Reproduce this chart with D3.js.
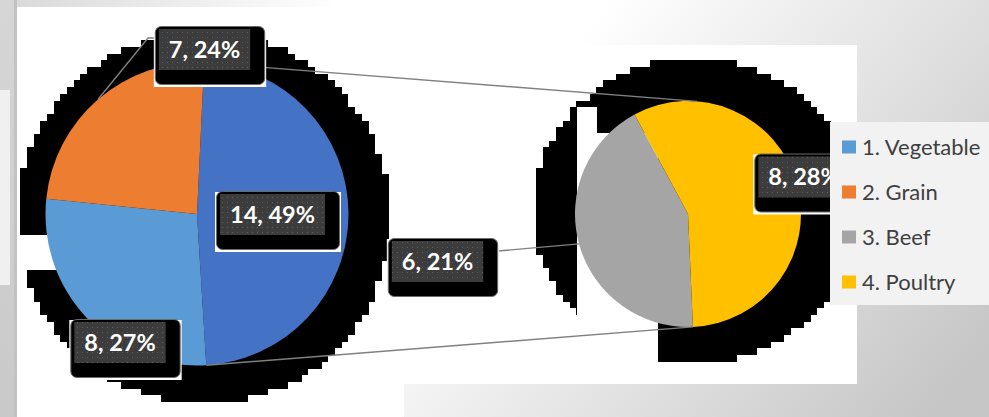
<!DOCTYPE html>
<html><head><meta charset="utf-8">
<script src="https://cdn.jsdelivr.net/npm/d3@7"></script>
<style>html,body{margin:0;padding:0;background:#fff;overflow:hidden}</style>
</head><body><svg id="c" width="989" height="417"></svg>
<script>
// ---------- data ----------
const mainCategories = ["Other", "1. Vegetable", "2. Grain"];
const mainValues = [14, 8, 7];
const mainPercents = ["49%", "27%", "24%"];
const secondCategories = ["3. Beef", "4. Poultry"];
const secondValues = [6, 8];
const secondPercents = ["21%", "28%"];
const legendLabels = ["1. Vegetable", "2. Grain", "3. Beef", "4. Poultry"];

// ---------- styles / layout ----------
const colorMap = {"Other": "#4472C4", "1. Vegetable": "#5B9BD5", "2. Grain": "#ED7D31", "3. Beef": "#A5A5A5", "4. Poultry": "#FFC000"};
const W = 989, H = 417;
const main = {cx: 197, cy: 214, r: 151.5, start: 2.7 * Math.PI / 180};
const second = {cx: 688, cy: 214, r: 113, start: 177.5 * Math.PI / 180, topAngle: 4.5 * Math.PI / 180};
const mainLabelCenters = [[272.5, 214.5], [120, 342.5], [204.5, 49.5]];
const secondLabelCenters = [[437.5, 261.5], [804, 177]];

const svg = d3.select("#c");
const defs = svg.append("defs");

const bg = defs.append("linearGradient").attr("id", "bg").attr("gradientUnits", "userSpaceOnUse")
  .attr("x1", 610).attr("y1", 0).attr("x2", 1000).attr("y2", 330);
bg.append("stop").attr("offset", 0).attr("stop-color", "#ffffff");
bg.append("stop").attr("offset", 1).attr("stop-color", "#c6c6c6");
const topg = defs.append("linearGradient").attr("id", "topg").attr("gradientUnits", "userSpaceOnUse")
  .attr("x1", 17).attr("y1", 0).attr("x2", 340).attr("y2", 0);
topg.append("stop").attr("offset", 0).attr("stop-color", "#dadada");
topg.append("stop").attr("offset", 1).attr("stop-color", "#ffffff");
const leftg = defs.append("linearGradient").attr("id", "leftg").attr("x1", 0).attr("y1", 0).attr("x2", 0).attr("y2", 1);
leftg.append("stop").attr("offset", 0).attr("stop-color", "#d6d6d6");
leftg.append("stop").attr("offset", 1).attr("stop-color", "#c9c9c9");
const pat = defs.append("pattern").attr("id", "dots").attr("patternUnits", "userSpaceOnUse")
  .attr("width", 5).attr("height", 5);
pat.append("rect").attr("width", 5).attr("height", 5).attr("fill", "#3c3c3c");
pat.append("rect").attr("x", 2).attr("y", 2).attr("width", 1).attr("height", 1).attr("fill", "#5e5e5e");

// background
svg.append("rect").attr("width", W).attr("height", H).attr("fill", "url(#bg)");
svg.append("rect").attr("x", 17).attr("y", 0).attr("width", 400).attr("height", 7).attr("fill", "url(#topg)");
svg.append("rect").attr("x", 17).attr("y", 7).attr("width", 387).attr("height", H - 7).attr("fill", "#fff");
svg.append("rect").attr("x", 404).attr("y", 45).attr("width", 453).attr("height", 339).attr("fill", "#fff");

// blocky shadows
function blockyPath(cx, cy, rx, ry, cell, xmin, xmax) {
  let d = "";
  const y0 = Math.floor((cy - ry) / cell) * cell;
  for (let y = y0; y < cy + ry; y += cell) {
    const yc = y + cell / 2;
    const t = (yc - cy) / ry;
    if (Math.abs(t) >= 1) continue;
    const dx = rx * Math.sqrt(1 - t * t);
    let xa = Math.round((cx - dx) / cell) * cell, xb = Math.round((cx + dx) / cell) * cell;
    xa = Math.max(xa, xmin); xb = Math.min(xb, xmax);
    d += `M${xa},${y.toFixed(2)}H${xb}V${(y + cell).toFixed(2)}H${xa}Z`;
  }
  return d;
}
svg.append("path").attr("d", blockyPath(204, 218, 187, 186, 6.7, 17, 392))
  .attr("fill", "#000").attr("shape-rendering", "crispEdges");
svg.append("path").attr("d", blockyPath(695, 210.5, 162, 152.5, 6.7, 520, 857))
  .attr("fill", "#000").attr("shape-rendering", "crispEdges");
// white gaps in the shadows
svg.append("rect").attr("x", 17).attr("y", 235).attr("width", 40).attr("height", 35).attr("fill", "#fff");
svg.append("rect").attr("x", 577).attr("y", 107).attr("width", 20).attr("height", 277).attr("fill", "#fff");
svg.append("rect").attr("x", 597).attr("y", 133).attr("width", 61).attr("height", 251).attr("fill", "#fff");

// left strip
svg.append("rect").attr("x", 0).attr("y", 0).attr("width", 17).attr("height", H).attr("fill", "url(#leftg)");
svg.append("rect").attr("x", 14).attr("y", 0).attr("width", 3).attr("height", H).attr("fill", "#c2c2c2");
svg.append("rect").attr("x", 0).attr("y", 90).attr("width", 10).attr("height", 195).attr("fill", "#f0f0f0");

// pies
const mainArcs = d3.pie().sort(null).startAngle(main.start).endAngle(main.start + 2 * Math.PI)
  .value(d => d.v)(mainCategories.map((c, i) => ({c, v: mainValues[i], p: mainPercents[i]})));
const secondArcs = d3.pie().sort(null).startAngle(second.start).endAngle(second.start + 2 * Math.PI)
  .value(d => d.v)(secondCategories.map((c, i) => ({c, v: secondValues[i], p: secondPercents[i]})));
const arcMain = d3.arc().innerRadius(0).outerRadius(main.r);
const arcSecond = d3.arc().innerRadius(0).outerRadius(second.r);

svg.append("g").attr("transform", `translate(${main.cx},${main.cy})`)
  .selectAll("path").data(mainArcs).join("path")
  .attr("d", arcMain).attr("fill", d => colorMap[d.data.c]);
svg.append("g").attr("transform", `translate(${second.cx},${second.cy})`)
  .selectAll("path").data(secondArcs).join("path")
  .attr("d", arcSecond).attr("fill", d => colorMap[d.data.c]);

function pt(p, a, r) { return [p.cx + r * Math.sin(a), p.cy - r * Math.cos(a)]; }

// connector lines
const other = mainArcs[0];
const lineG = svg.append("g").attr("stroke", "#808080").attr("stroke-width", 1.4).attr("fill", "none");
lineG.append("line").attr("x1", pt(main, other.startAngle, main.r)[0]).attr("y1", pt(main, other.startAngle, main.r)[1])
  .attr("x2", pt(second, second.topAngle, second.r)[0]).attr("y2", pt(second, second.topAngle, second.r)[1]);
lineG.append("line").attr("x1", pt(main, other.endAngle, main.r)[0]).attr("y1", pt(main, other.endAngle, main.r)[1])
  .attr("x2", pt(second, secondArcs[0].startAngle, second.r)[0]).attr("y2", pt(second, secondArcs[0].startAngle, second.r)[1]);
// leader lines
const grain = mainArcs[2];
const gp = pt(main, (grain.startAngle + grain.endAngle) / 2, main.r);
lineG.append("polyline").attr("points", `${gp[0]},${gp[1]} 148,38 155,38`);
const beef = secondArcs[0];
const bp = pt(second, (beef.startAngle + beef.endAngle) / 2, second.r);
lineG.append("line").attr("x1", bp[0]).attr("y1", bp[1]).attr("x2", 498).attr("y2", 251);

// data labels
function drawLabel(cx, cy, text) {
  const g = svg.append("g");
  const t = g.append("text").attr("x", cx).attr("y", cy + 8.3).attr("text-anchor", "middle")
    .attr("font-family", "Lato, 'Open Sans', sans-serif").attr("font-weight", 700).attr("font-size", 23.5)
    .attr("fill", "#fff").text(text);
  const w = t.node().getComputedTextLength() + 20, h = 41;
  const x = cx - w / 2, y = cy - h / 2;
  g.insert("rect", "text").attr("x", x - 5).attr("y", y - 2).attr("width", w + 21).attr("height", h + 19).attr("fill", "#fff");
  g.insert("rect", "text").attr("x", x - 3.5).attr("y", y - 2.5).attr("width", w + 18).attr("height", h + 17)
    .attr("rx", 6).attr("fill", "#000").attr("stroke", "#6b6b6b").attr("stroke-width", 1);
  g.insert("rect", "text").attr("x", x).attr("y", y).attr("width", w).attr("height", h).attr("fill", "url(#dots)");
}
mainArcs.forEach((d, i) => drawLabel(mainLabelCenters[i][0], mainLabelCenters[i][1], `${d.data.v}, ${d.data.p}`));
secondArcs.forEach((d, i) => drawLabel(secondLabelCenters[i][0], secondLabelCenters[i][1], `${d.data.v}, ${d.data.p}`));

// legend
const lg = svg.append("g");
lg.append("rect").attr("x", 830).attr("y", 122).attr("width", 170).attr("height", 183).attr("fill", "#f2f2f2");
legendLabels.forEach((name, i) => {
  const yc = 147 + i * 45;
  lg.append("rect").attr("x", 842).attr("y", yc - 6.5).attr("width", 14).attr("height", 13).attr("fill", colorMap[name]);
  lg.append("text").attr("x", 862).attr("y", yc + 7.8).attr("font-family", "Lato, 'Open Sans', sans-serif")
    .attr("font-size", 22).attr("fill", "#404040").text(name);
});
</script></body></html>
